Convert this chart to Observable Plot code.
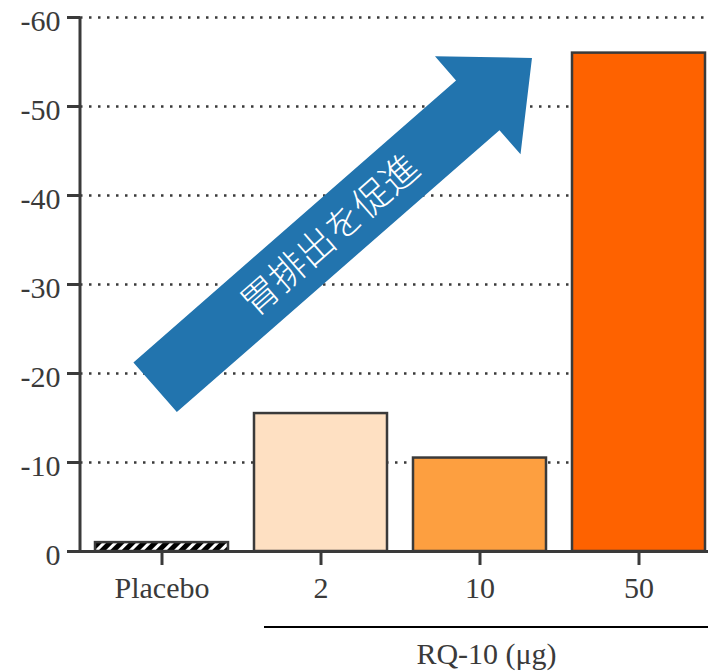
<!DOCTYPE html>
<html>
<head>
<meta charset="utf-8">
<script src="https://cdn.jsdelivr.net/npm/d3@7"></script>
<script src="https://cdn.jsdelivr.net/npm/@observablehq/plot@0.6"></script>
<style>
  html, body { margin: 0; padding: 0; background: #fff; overflow: hidden; }
</style>
</head>
<body>
<div id="chart"></div>
<script>
const categories = ["Placebo", "2", "10", "50"];
const values = [-1.0, -15.5, -10.5, -56.0];
const fills = ["url(#hatch)", "#FEE0C2", "#FD9F40", "#FE6200"];
const yTicks = [0, -10, -20, -30, -40, -50, -60];
const arrowLabel = "胃排出を促進";
const groupLabel = "RQ-10 (μg)";
const groupCategories = ["2", "10", "50"];
// arrow endpoints in data terms: band index (fractional) and y value
const arrowTail = {i: -0.04, y: -18.4};
const arrowTip = {i: 2.33, y: -55.4};

const data = categories.map((c, k) => ({cat: c, value: values[k], fill: fills[k]}));
const ink = "#3a3a3a";

const chart = Plot.plot({
  width: 708,
  height: 671,
  marginTop: 17,
  marginBottom: 120,
  marginLeft: 80,
  marginRight: 0,
  style: {fontFamily: "'Liberation Serif', serif", fontSize: "30px", color: ink, background: "#fff", overflow: "hidden"},
  x: {domain: categories, range: [80, 720], paddingInner: 0.166, paddingOuter: 0.088, label: null},
  y: {domain: [0, -60], label: null},
  color: {type: "identity"},
  marks: [
    Plot.gridY(yTicks.filter(d => d !== 0), {stroke: ink, strokeOpacity: 1, strokeWidth: 2.5, strokeDasharray: "2.5,6.5"}),
    Plot.barY(data, {x: "cat", y: "value", fill: "fill", stroke: ink, strokeWidth: 2.5}),
    Plot.ruleY([0], {stroke: ink, strokeWidth: 3}),
    Plot.axisY({ticks: yTicks, tickSize: 13, text: null, stroke: ink, strokeWidth: 3, label: null}),
    Plot.axisY({ticks: yTicks, tickSize: 0, tickPadding: 20, dy: 4, tickFormat: d => String(d), label: null, fill: ink}),
    Plot.axisX({tickSize: 14, tickPadding: 11, stroke: ink, strokeWidth: 3, label: null, fill: ink})
  ]
});

document.getElementById("chart").appendChild(chart);

const svg = d3.select(chart);
const xs = chart.scale("x");
const ys = chart.scale("y");
const step = xs.step;
const center = i => xs.apply(categories[0]) + xs.bandwidth / 2 + i * step;

// hatch pattern
const defs = svg.insert("defs", ":first-child");
const pat = defs.append("pattern").attr("id", "hatch").attr("patternUnits", "userSpaceOnUse")
  .attr("width", 8).attr("height", 8).attr("patternTransform", "rotate(45)");
pat.append("rect").attr("width", 8).attr("height", 8).attr("fill", "#000");
pat.append("rect").attr("x", 0).attr("width", 3).attr("height", 8).attr("fill", "#fff");

// left axis line
svg.append("line")
  .attr("x1", 80).attr("x2", 80)
  .attr("y1", ys.apply(yTicks[yTicks.length - 1])).attr("y2", ys.apply(0) + 1.5)
  .attr("stroke", ink).attr("stroke-width", 3);

// arrow
const x0 = center(arrowTail.i), y0 = ys.apply(arrowTail.y);
const x1 = center(arrowTip.i), y1 = ys.apply(arrowTip.y);
const dx = x1 - x0, dy = y1 - y0, len = Math.hypot(dx, dy);
const ux = dx / len, uy = dy / len, nx = -uy, ny = ux;
const shaftW = 66, headW = 130, headL = 72;
const bx = x1 - ux * headL, by = y1 - uy * headL;
const pts = [
  [x0 + nx * shaftW / 2, y0 + ny * shaftW / 2],
  [bx + nx * shaftW / 2, by + ny * shaftW / 2],
  [bx + nx * headW / 2, by + ny * headW / 2],
  [x1, y1],
  [bx - nx * headW / 2, by - ny * headW / 2],
  [bx - nx * shaftW / 2, by - ny * shaftW / 2],
  [x0 - nx * shaftW / 2, y0 - ny * shaftW / 2]
];
svg.append("polygon").attr("points", pts.map(p => p.join(",")).join(" ")).attr("fill", "#2274AE");
const ang = Math.atan2(dy, dx) * 180 / Math.PI;
const tcx = x0 + ux * 232, tcy = y0 + uy * 232;
svg.append("text")
  .attr("transform", `translate(${tcx},${tcy}) rotate(${ang})`)
  .attr("text-anchor", "middle").attr("dy", "0.36em")
  .attr("fill", "#fff")
  .style("font-family", "'Noto Sans CJK JP', sans-serif")
  .style("font-size", "37px").style("font-weight", 300)
  .text(arrowLabel);

// group bracket
const gx1 = xs.apply(groupCategories[0]) + 10;
svg.append("line")
  .attr("x1", gx1).attr("x2", 708)
  .attr("y1", 627).attr("y2", 627)
  .attr("stroke", "#000").attr("stroke-width", 2);
svg.append("text")
  .attr("x", center(2) + 7).attr("y", 653).attr("dy", "0.36em")
  .attr("text-anchor", "middle").attr("fill", ink)
  .text(groupLabel);
</script>
</body>
</html>
